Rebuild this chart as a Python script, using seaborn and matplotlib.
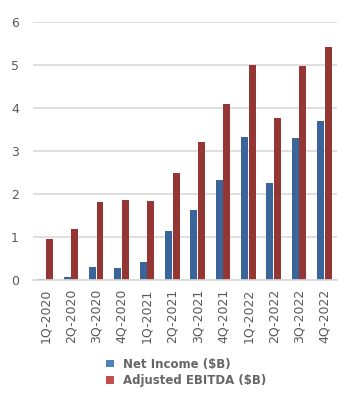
import matplotlib
matplotlib.use("Agg")
import matplotlib.pyplot as plt
from matplotlib.patches import Patch
import seaborn as sns
import pandas as pd

quarters = ["1Q-2020", "2Q-2020", "3Q-2020", "4Q-2020", "1Q-2021", "2Q-2021",
            "3Q-2021", "4Q-2021", "1Q-2022", "2Q-2022", "3Q-2022", "4Q-2022"]
net_income = [0.02, 0.08, 0.31, 0.27, 0.43, 1.14, 1.62, 2.33, 3.33, 2.26, 3.30, 3.70]
adj_ebitda = [0.95, 1.20, 1.81, 1.86, 1.83, 2.49, 3.21, 4.09, 5.00, 3.78, 4.98, 5.42]
series_names = ["Net Income ($B)", "Adjusted EBITDA ($B)"]
y_ticks = [0, 1, 2, 3, 4, 5, 6]

df = pd.DataFrame({
    "quarter": quarters * 2,
    "value": net_income + adj_ebitda,
    "series": [series_names[0]] * len(quarters) + [series_names[1]] * len(quarters),
})

sns.set_theme(style="white")
plt.rcParams['font.family'] = ['DejaVu Sans']

fig = plt.figure(figsize=(3.54, 4.03), dpi=100)
ax = fig.add_axes([0.093, 0.305, 0.859, 0.64])

palette = {series_names[0]: "#3b659a", series_names[1]: "#943634"}
sns.barplot(data=df, x="quarter", y="value", hue="series", palette=palette,
            order=quarters, hue_order=series_names, width=0.6, gap=0.1,
            saturation=1, linewidth=0, ax=ax, legend=False)

ax.set_ylim(0, 6)
ax.set_yticks(y_ticks)
ax.set_xlim(-0.5, len(quarters) - 0.5)
ax.yaxis.grid(True, color="#d9d9d9", linewidth=1.2)
ax.set_axisbelow(True)
for s in ["top", "right", "left"]:
    ax.spines[s].set_visible(False)
ax.spines["bottom"].set_color("#d9d9d9")
ax.spines["bottom"].set_linewidth(1.2)
ax.set_xlabel("")
ax.set_ylabel("")
ax.tick_params(axis="both", length=0, colors="#595959", labelsize=9)
ax.tick_params(axis="x", pad=6)
ax.tick_params(axis="y", pad=10)
plt.setp(ax.get_xticklabels(), rotation=90)

legend_colors = ["#4f81bd", "#c0504d"]
handles = [Patch(facecolor=c, edgecolor="none") for c in legend_colors]
leg = fig.legend(handles, series_names, loc="center", bbox_to_anchor=(0.527, 0.076),
                 frameon=False, ncol=1, handlelength=0.65, handleheight=0.65,
                 handletextpad=0.8, labelspacing=0.3, prop={"size": 8.5, "weight": "bold"})
for t in leg.get_texts():
    t.set_color("#666666")

fig.savefig("out.png", dpi=100)
